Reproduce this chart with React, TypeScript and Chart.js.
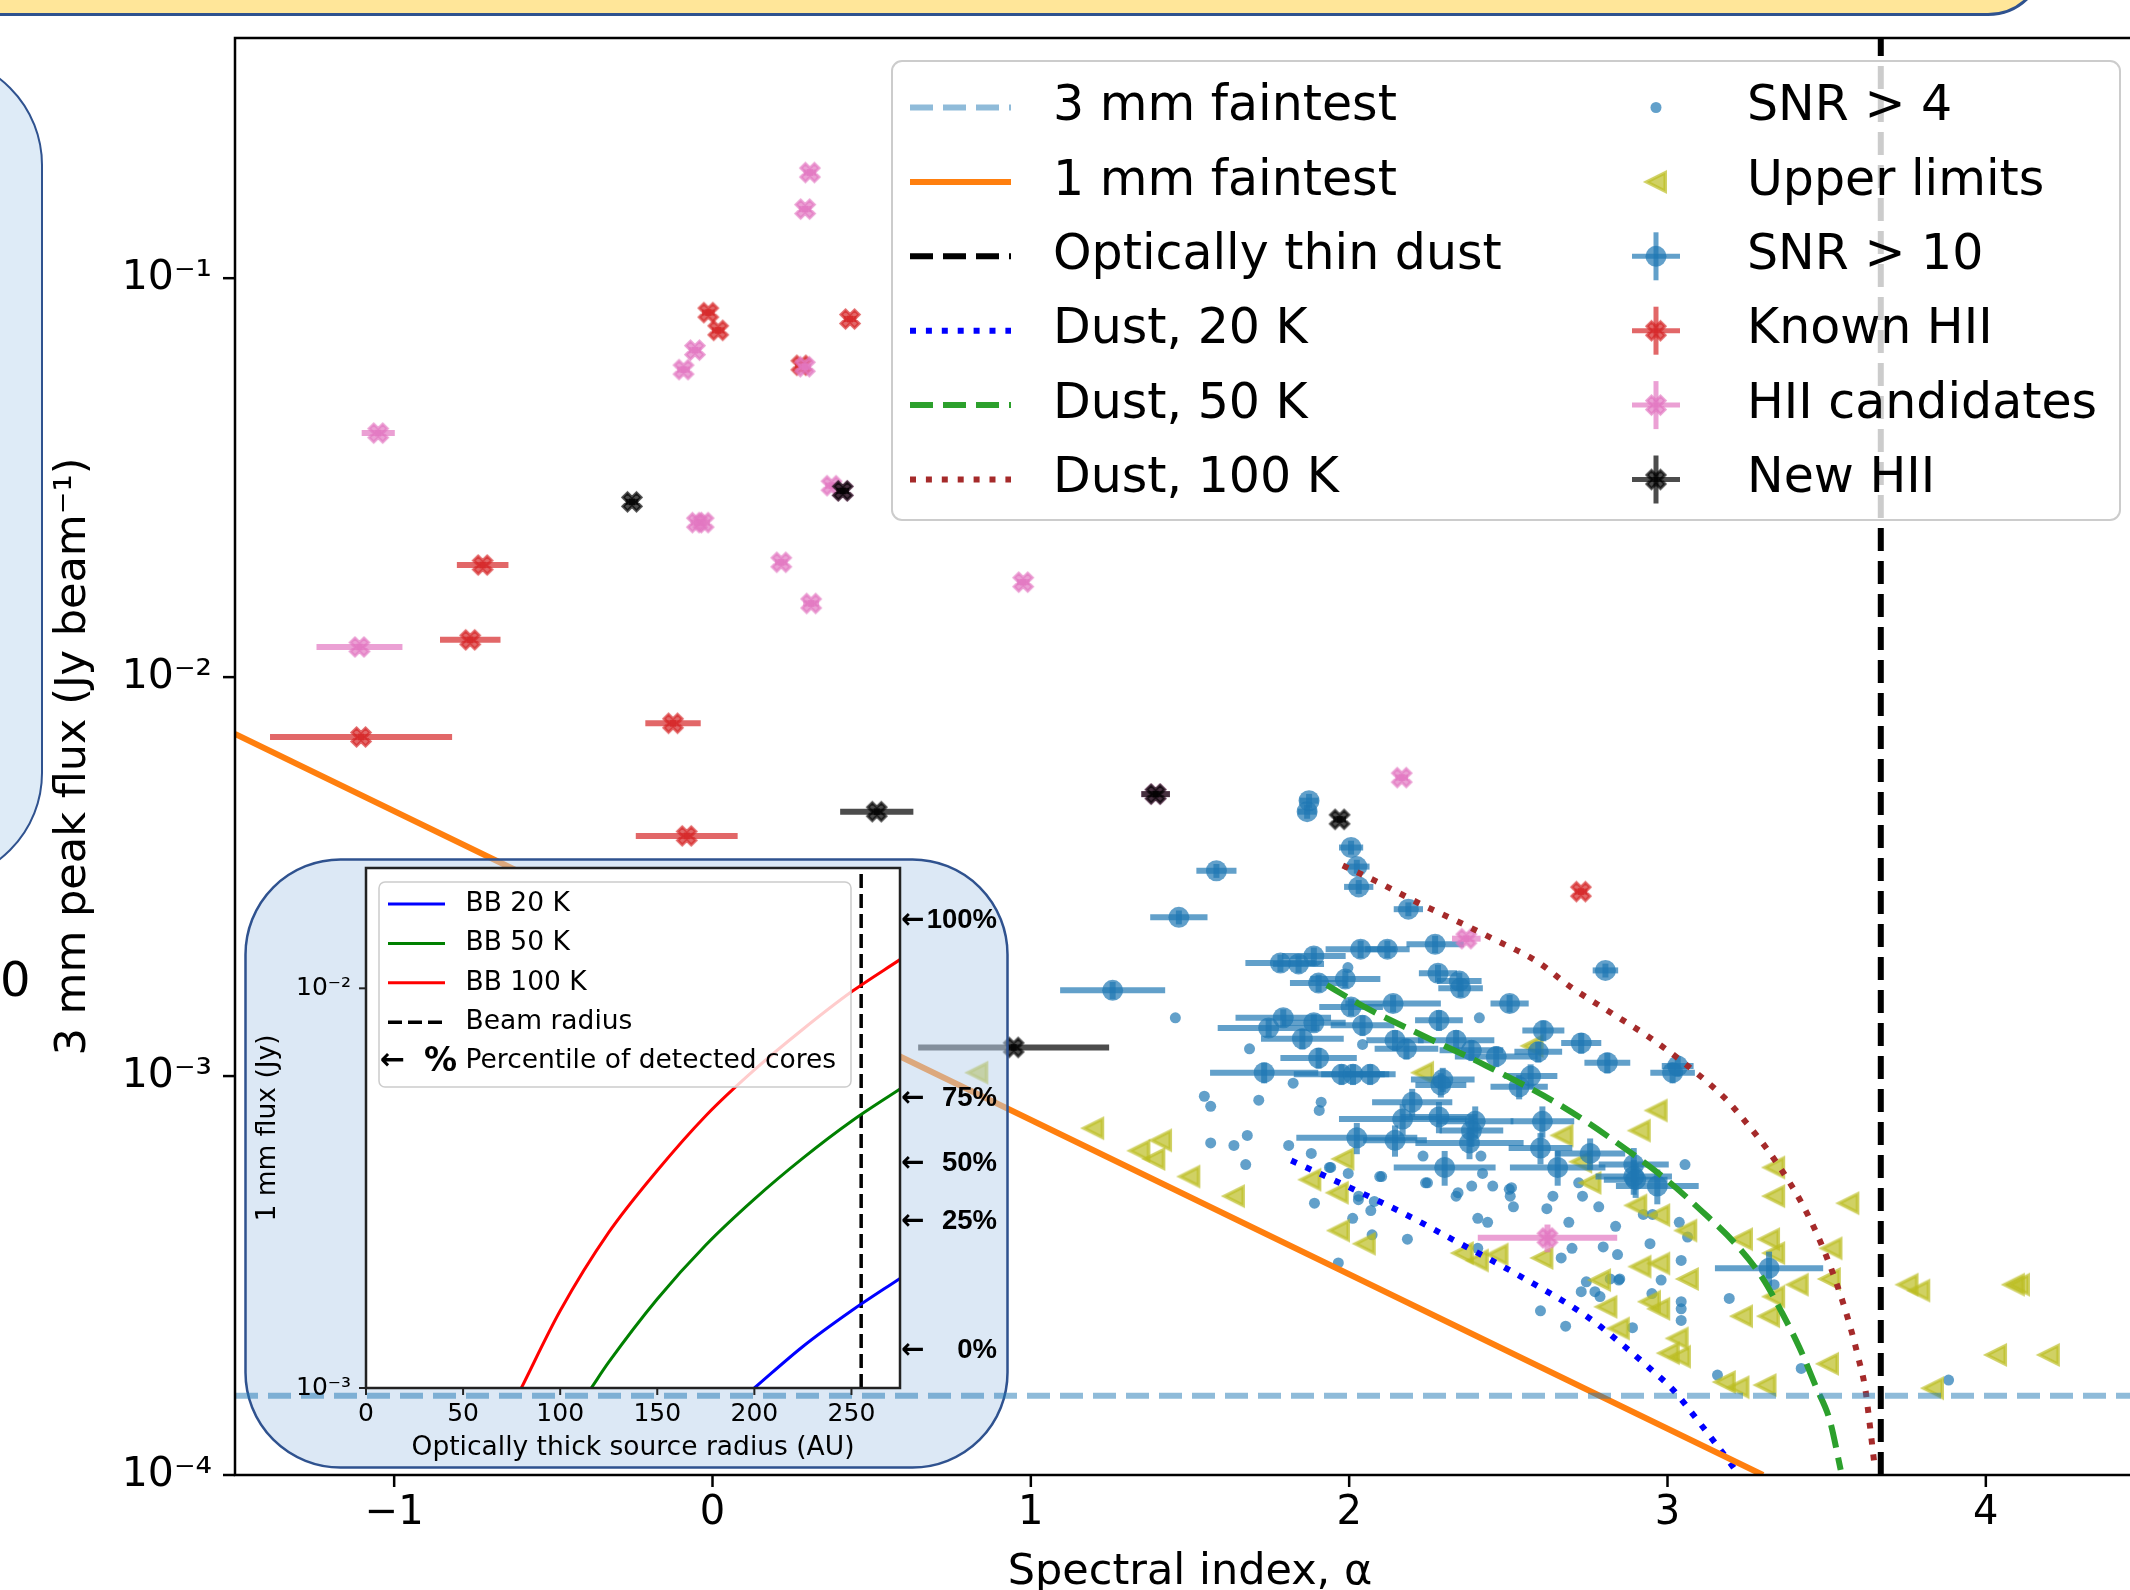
import React, { useEffect, useRef } from 'react';
import { Chart, registerables } from 'chart.js';

Chart.register(...registerables);

// ================= Main panel data (spectral index vs 3 mm peak flux) =================
const alphaTickValues = [-1, 0, 1, 2, 3, 4];
const alphaLimits = [-1.5, 4.5];
const fluxLimits = [1e-4, 0.4];

const faint3mmAlpha = [-1.5, 4.5];
const faint3mmFlux = [1.58e-4, 1.58e-4];
const faint1mmAlpha = [-1.5, 3.3];
const faint1mmFlux = [7.2e-3, 1.0e-4];
const thinDustAlpha = [3.67, 3.67];
const thinDustFlux = [1.0e-4, 0.4];

// [alpha, flux]
const dust20K = [
  [1.818, 6.14e-4], [1.966, 5.42e-4], [2.154, 4.6e-4], [2.331, 3.87e-4], [2.513, 3.23e-4],
  [2.749, 2.49e-4], [2.868, 2.09e-4], [2.945, 1.85e-4], [3.019, 1.63e-4], [3.095, 1.37e-4],
  [3.209, 1.04e-4], [3.224, 1.0e-4],
];
const dust50K = [
  [1.93, 1.69e-3], [2.048, 1.49e-3], [2.216, 1.28e-3], [2.432, 1.06e-3], [2.673, 8.36e-4],
  [2.889, 6.39e-4], [3.0, 5.47e-4], [3.106, 4.6e-4], [3.213, 3.8e-4], [3.297, 3.13e-4],
  [3.361, 2.54e-4], [3.414, 2.09e-4], [3.467, 1.66e-4], [3.51, 1.37e-4], [3.544, 1.03e-4],
];
const dust100K = [
  [1.98, 3.37e-3], [2.084, 3.08e-3], [2.216, 2.72e-3], [2.36, 2.4e-3], [2.456, 2.2e-3],
  [2.589, 1.94e-3], [2.697, 1.67e-3], [2.817, 1.45e-3], [2.937, 1.26e-3], [3.057, 1.07e-3],
  [3.177, 8.85e-4], [3.244, 7.7e-4], [3.308, 6.64e-4], [3.366, 5.69e-4], [3.42, 4.83e-4],
  [3.467, 4.06e-4], [3.508, 3.39e-4], [3.542, 2.85e-4], [3.573, 2.37e-4], [3.6, 1.96e-4],
  [3.621, 1.65e-4], [3.632, 1.41e-4], [3.652, 1.03e-4],
];

// SNR > 4 : [alpha, flux]
const snr4Points = [
  [1.454, 1.4e-3], [1.687, 1.17e-3], [1.824, 9.6e-4], [1.545, 8.9e-4], [1.565, 8.4e-4],
  [1.716, 8.7e-4], [1.912, 8.6e-4], [1.906, 8.2e-4], [1.565, 6.8e-4], [1.638, 6.7e-4],
  [1.68, 7.1e-4], [1.675, 6.0e-4], [1.81, 6.7e-4], [1.881, 6.4e-4], [1.938, 5.9e-4],
  [1.997, 5.7e-4], [2.096, 5.6e-4], [1.891, 4.8e-4], [2.029, 4.9e-4], [2.079, 4.85e-4],
  [2.068, 4.6e-4], [2.011, 4.4e-4], [2.183, 3.9e-4], [1.966, 3.4e-4], [2.072, 4.0e-4],
  [2.232, 6.3e-4], [2.24, 5.4e-4], [2.336, 5.0e-4], [2.385, 5.3e-4], [2.419, 5.7e-4],
  [2.451, 5.3e-4], [2.404, 4.4e-4], [2.435, 4.3e-4], [2.404, 3.7e-4], [2.409, 1.4e-3],
  [2.503, 5.2e-4], [2.506, 5.0e-4], [2.516, 4.7e-4], [2.414, 6.3e-4], [1.996, 1.87e-3],
  [2.042, 1.2e-3], [2.246, 5.4e-4], [2.342, 5.1e-4], [2.51, 5.25e-4], [2.64, 5.0e-4],
  [2.733, 5.0e-4], [2.721, 5.4e-4], [3.055, 6.0e-4], [2.102, 5.6e-4], [1.942, 5.9e-4],
  [2.03, 5.0e-4], [2.621, 4.65e-4], [2.601, 2.58e-4], [2.666, 3.5e-4], [2.69, 4.3e-4],
  [2.7, 3.7e-4], [2.68, 2.36e-4], [2.729, 2.88e-4], [2.745, 3.05e-4], [2.772, 2.88e-4],
  [2.784, 4.7e-4], [2.798, 3.73e-4], [2.837, 4.2e-4], [2.843, 3.57e-4], [2.847, 3.08e-4],
  [2.89, 2.34e-4], [2.945, 3.8e-4], [2.951, 2.85e-4], [2.98, 3.08e-4], [3.043, 3.45e-4],
  [3.043, 2.72e-4], [3.043, 2.61e-4], [3.043, 2.44e-4], [3.063, 3.95e-4], [3.194, 2.77e-4],
  [3.42, 1.85e-4], [3.157, 1.78e-4], [3.883, 1.73e-4], [2.953, 4.5e-4], [2.924, 4.5e-4],
  [3.037, 4.3e-4], [2.82, 3.1e-4], [2.85, 3.1e-4], [2.788, 2.8e-4], [3.335, 3.0e-4],
];

// Upper limits : [alpha, flux]
const upperLimitPoints = [
  [0.832, 1.02e-3], [1.196, 7.4e-4], [1.341, 6.5e-4], [1.409, 6.9e-4], [1.388, 6.2e-4],
  [1.498, 5.6e-4], [1.638, 5.0e-4], [1.982, 6.2e-4], [1.878, 5.5e-4], [1.964, 5.1e-4],
  [1.968, 4.1e-4], [2.049, 3.8e-4], [2.357, 3.6e-4], [2.404, 3.45e-4], [2.466, 3.57e-4],
  [2.232, 1.02e-3], [2.576, 1.19e-3], [2.607, 3.5e-4], [2.67, 7.1e-4], [2.729, 6.1e-4],
  [2.758, 5.4e-4], [2.788, 3.08e-4], [2.808, 2.64e-4], [2.847, 2.33e-4], [2.902, 4.74e-4],
  [2.915, 3.33e-4], [2.945, 2.72e-4], [2.974, 3.39e-4], [2.974, 4.48e-4], [3.004, 2.02e-4],
  [3.039, 1.98e-4], [3.18, 1.71e-4], [2.966, 8.2e-4], [2.913, 7.3e-4], [3.335, 5.9e-4],
  [3.335, 5.0e-4], [3.568, 4.8e-4], [3.059, 4.1e-4], [3.234, 3.9e-4], [3.319, 3.9e-4],
  [3.515, 3.7e-4], [3.335, 3.6e-4], [3.064, 3.1e-4], [3.409, 3.0e-4], [3.51, 3.1e-4],
  [3.754, 3.0e-4], [3.791, 2.9e-4], [4.088, 3.0e-4], [4.104, 3.0e-4], [3.335, 2.8e-4],
  [2.974, 2.61e-4], [3.234, 2.5e-4], [3.319, 2.5e-4], [3.032, 2.2e-4], [3.504, 1.9e-4],
  [4.032, 2.0e-4], [4.198, 2.0e-4], [3.223, 1.66e-4], [3.308, 1.68e-4], [3.834, 1.65e-4],
];

// SNR > 10 : [alpha, flux, alpha error, relative flux error]
const snr10Points = [
  [1.874, 4.9e-3, 0.03, 0.04], [1.868, 4.6e-3, 0.03, 0.04], [1.583, 3.27e-3, 0.063, 0.04],
  [2.006, 3.74e-3, 0.038, 0.04], [2.024, 3.35e-3, 0.04, 0.04], [2.03, 2.98e-3, 0.046, 0.04],
  [1.465, 2.5e-3, 0.09, 0.04], [2.186, 2.62e-3, 0.046, 0.04], [2.805, 1.84e-3, 0.04, 0.04],
  [2.036, 2.08e-3, 0.11, 0.05], [2.12, 2.08e-3, 0.07, 0.05], [2.27, 2.14e-3, 0.09, 0.05],
  [1.784, 1.92e-3, 0.11, 0.05], [1.841, 1.91e-3, 0.08, 0.05], [1.889, 2.0e-3, 0.1, 0.05],
  [1.904, 1.71e-3, 0.09, 0.05], [1.988, 1.75e-3, 0.11, 0.05], [2.279, 1.81e-3, 0.06, 0.05],
  [2.346, 1.73e-3, 0.07, 0.05], [2.35, 1.66e-3, 0.07, 0.05], [2.504, 1.52e-3, 0.06, 0.05],
  [2.138, 1.52e-3, 0.15, 0.05], [2.006, 1.49e-3, 0.1, 0.05], [1.793, 1.4e-3, 0.15, 0.05],
  [1.747, 1.32e-3, 0.16, 0.05], [1.889, 1.36e-3, 0.1, 0.05], [2.042, 1.34e-3, 0.1, 0.06],
  [2.282, 1.38e-3, 0.075, 0.06], [2.61, 1.3e-3, 0.066, 0.06], [1.853, 1.24e-3, 0.13, 0.06],
  [2.729, 1.21e-3, 0.063, 0.06], [2.144, 1.23e-3, 0.09, 0.06], [2.18, 1.17e-3, 0.1, 0.06],
  [2.336, 1.23e-3, 0.12, 0.06], [2.384, 1.16e-3, 0.1, 0.06], [2.462, 1.12e-3, 0.13, 0.06],
  [1.904, 1.11e-3, 0.12, 0.06], [2.594, 1.15e-3, 0.075, 0.06], [2.811, 1.08e-3, 0.072, 0.06],
  [1.733, 1.02e-3, 0.17, 0.06], [1.976, 1.01e-3, 0.15, 0.06], [2.012, 1.01e-3, 0.1, 0.06],
  [2.066, 1.01e-3, 0.08, 0.06], [2.294, 9.8e-4, 0.1, 0.07], [2.57, 1.0e-3, 0.084, 0.07],
  [2.534, 9.4e-4, 0.09, 0.07], [2.288, 9.5e-4, 0.08, 0.07], [2.198, 8.6e-4, 0.126, 0.08],
  [2.168, 7.8e-4, 0.2, 0.09], [2.282, 7.9e-4, 0.12, 0.09], [2.396, 7.7e-4, 0.12, 0.09],
  [2.384, 7.3e-4, 0.1, 0.09], [2.607, 7.7e-4, 0.1, 0.09], [2.024, 7.0e-4, 0.19, 0.09],
  [2.144, 6.9e-4, 0.1, 0.09], [2.378, 6.8e-4, 0.17, 0.09], [2.601, 6.6e-4, 0.1, 0.09],
  [2.757, 6.4e-4, 0.11, 0.09], [2.3, 5.9e-4, 0.16, 0.1], [2.655, 5.9e-4, 0.15, 0.1],
  [2.894, 6.0e-4, 0.11, 0.1], [2.894, 5.6e-4, 0.12, 0.1], [2.9, 5.5e-4, 0.1, 0.1],
  [2.968, 5.3e-4, 0.13, 0.1], [3.319, 3.3e-4, 0.17, 0.1], [3.016, 1.02e-3, 0.07, 0.06],
  [3.032, 1.06e-3, 0.05, 0.06], [1.257, 1.64e-3, 0.165, 0.05],
];

// HII regions : [alpha, flux, alpha error, relative flux error]
const knownHII = [
  [-0.013, 0.082, 0.02, 0.02], [0.018, 0.074, 0.02, 0.02], [0.432, 0.079, 0.02, 0.02],
  [0.279, 0.0605, 0.02, 0.02], [-0.722, 0.0191, 0.081, 0.02], [-0.761, 0.0124, 0.095, 0.02],
  [-1.104, 7.08e-3, 0.286, 0.02], [-0.124, 7.66e-3, 0.087, 0.02], [-0.081, 4.0e-3, 0.16, 0.02],
  [2.728, 2.9e-3, 0.02, 0.02],
];
const hiiCandidates = [
  [0.306, 0.184, 0.02, 0.02], [0.291, 0.149, 0.02, 0.02], [-0.055, 0.066, 0.02, 0.02],
  [-0.091, 0.059, 0.02, 0.02], [0.29, 0.06, 0.02, 0.02], [-1.05, 0.0409, 0.052, 0.02],
  [0.374, 0.0302, 0.02, 0.02], [0.409, 0.0293, 0.02, 0.02], [-0.049, 0.0244, 0.02, 0.02],
  [-0.028, 0.0244, 0.02, 0.02], [0.216, 0.0194, 0.02, 0.02], [0.31, 0.0153, 0.025, 0.02],
  [-1.109, 0.0119, 0.135, 0.02], [0.976, 0.0173, 0.02, 0.02], [2.165, 5.6e-3, 0.02, 0.02],
  [2.368, 2.21e-3, 0.045, 0.02], [2.623, 3.93e-4, 0.219, 0.08], [1.392, 5.09e-3, 0.045, 0.02],
];
const newHII = [
  [-0.253, 0.0275, 0.02, 0.02], [0.409, 0.0293, 0.02, 0.02], [0.516, 4.6e-3, 0.115, 0.02],
  [1.392, 5.09e-3, 0.045, 0.02], [1.97, 4.4e-3, 0.02, 0.02], [0.946, 1.18e-3, 0.3, 0.02],
];

// ================= Inset data (1 mm flux vs optically thick source radius) =================
const radiusTickValues = [0, 50, 100, 150, 200, 250];
const radiusLimits = [0, 275];
const insetFluxLimits = [1e-3, 2e-2];
const bb20Radius = [200, 225, 250, 275];
const bb20Flux = [1.0e-3, 1.27e-3, 1.56e-3, 1.88e-3];
const bb50Radius = [116, 125, 150, 175, 200, 225, 250, 275];
const bb50Flux = [1.0e-3, 1.16e-3, 1.67e-3, 2.28e-3, 2.97e-3, 3.76e-3, 4.65e-3, 5.6e-3];
const bb100Radius = [80, 100, 125, 150, 175, 200, 225, 250, 275];
const bb100Flux = [1.0e-3, 1.56e-3, 2.45e-3, 3.5e-3, 4.8e-3, 6.25e-3, 7.9e-3, 9.8e-3, 1.18e-2];
const beamRadius = 255;
const percentileLabels = ['100%', '75%', '50%', '25%', '0%'];
const percentileFlux = [1.48e-2, 5.3e-3, 3.64e-3, 2.61e-3, 1.24e-3];

// ================= styling / layout =================
const FAM = 'DejaVu Sans';
const TAB_BLUE = 'rgba(31,119,180,0.7)';
const OLIVE = 'rgba(188,189,34,0.7)';
const RED = 'rgba(214,39,40,0.7)';
const PINK = 'rgba(227,119,194,0.7)';
const BLACK_A = 'rgba(0,0,0,0.7)';

const MAIN_W = 2200;
const MAIN_H = 1590;
const INSET = { left: 244, top: 858, width: 765, height: 611, radius: 95 };
const MAIN_LEGEND = {
  x: 892, y: 61, w: 1228, h: 459, r: 10, firstRow: 107.5, rowStep: 74.4,
  lineX0: 910, lineX1: 1011, textX1: 1053, markX: 1656, textX2: 1747, font: 49, errHalf: 24,
};
const INSET_LEGEND = {
  x: 135, y: 24, w: 472, h: 205, r: 6, firstRow: 46, rowStep: 39.4,
  lineX0: 144, lineX1: 201, textX: 221.5, font: 26.5,
};
const PCT = { arrowX: 657, textRight: 753, font: 27.5 };

const SUP: Record<string, string> = {
  '-': '\u207B', '0': '\u2070', '1': '\u00B9', '2': '\u00B2', '3': '\u00B3', '4': '\u2074',
  '5': '\u2075', '6': '\u2076', '7': '\u2077', '8': '\u2078', '9': '\u2079',
};
function isDecade(v: number) {
  const l = Math.log10(v);
  return Math.abs(l - Math.round(l)) < 1e-6;
}
function decadeLabel(v: number) {
  if (!isDecade(v)) return null;
  const e = Math.round(Math.log10(v));
  return '10' + String(e).split('').map((c) => SUP[c] || c).join('');
}
function logTickValues(lo: number, hi: number) {
  const out: number[] = [];
  for (let e = Math.floor(Math.log10(lo)); e <= Math.ceil(Math.log10(hi)); e++) {
    for (let m = 1; m <= 9; m++) {
      const v = parseFloat((m * Math.pow(10, e)).toPrecision(6));
      if (v >= lo * 0.9999 && v <= hi * 1.0001) out.push(v);
    }
  }
  return out;
}
function signedLabel(v: number) {
  return v < 0 ? '\u2212' + String(-v) : String(v);
}
function zeroPadding(s: any) {
  s.paddingTop = 0;
  s.paddingBottom = 0;
  s.paddingLeft = 0;
  s.paddingRight = 0;
}

// marker glyphs (matplotlib-like filled 'X' and '<')
function makeMarkerCanvas(kind: string, color: string, size: number, edge: number) {
  const S = Math.ceil(size + 2 * edge + 4);
  const c = document.createElement('canvas');
  c.width = S;
  c.height = S;
  const g = c.getContext('2d') as CanvasRenderingContext2D;
  g.translate(S / 2, S / 2);
  g.beginPath();
  if (kind === 'X') {
    const k = size / 4;
    const v = [[-1, -2], [0, -1], [1, -2], [2, -1], [1, 0], [2, 1], [1, 2], [0, 1], [-1, 2], [-2, 1], [-1, 0], [-2, -1]];
    v.forEach((p, i) => (i ? g.lineTo(p[0] * k, p[1] * k) : g.moveTo(p[0] * k, p[1] * k)));
  } else {
    const h = size / 2;
    g.moveTo(-h, 0);
    g.lineTo(h, h);
    g.lineTo(h, -h);
  }
  g.closePath();
  g.fillStyle = color;
  g.fill();
  g.lineJoin = 'miter';
  g.lineWidth = edge;
  g.strokeStyle = color;
  g.stroke();
  return c;
}

function roundRectPath(ctx: CanvasRenderingContext2D, x: number, y: number, w: number, h: number, r: number) {
  ctx.beginPath();
  ctx.moveTo(x + r, y);
  ctx.lineTo(x + w - r, y);
  ctx.arcTo(x + w, y, x + w, y + r, r);
  ctx.lineTo(x + w, y + h - r);
  ctx.arcTo(x + w, y + h, x + w - r, y + h, r);
  ctx.lineTo(x + r, y + h);
  ctx.arcTo(x, y + h, x, y + h - r, r);
  ctx.lineTo(x, y + r);
  ctx.arcTo(x, y, x + r, y, r);
  ctx.closePath();
}

function drawMarker(ctx: CanvasRenderingContext2D, d: any, x: number, y: number) {
  const st = d.pointStyle;
  if (st && typeof st === 'object') {
    ctx.drawImage(st, x - st.width / 2, y - st.height / 2);
    return;
  }
  ctx.save();
  ctx.fillStyle = d.pointBackgroundColor;
  ctx.beginPath();
  ctx.arc(x, y, d.pointRadius, 0, Math.PI * 2);
  ctx.fill();
  ctx.restore();
}

function drawFrame(chart: any, cfg: any) {
  const { ctx, chartArea: a } = chart;
  const xs = chart.scales.x;
  const ys = chart.scales.y;
  ctx.save();
  ctx.strokeStyle = cfg.color;
  ctx.lineCap = 'butt';
  xs.ticks.forEach((t: any) => {
    const p = xs.getPixelForValue(t.value);
    ctx.lineWidth = cfg.majorW;
    ctx.beginPath();
    ctx.moveTo(p, a.bottom);
    ctx.lineTo(p, a.bottom + cfg.majorLen);
    ctx.stroke();
  });
  ys.ticks.forEach((t: any) => {
    const maj = isDecade(t.value);
    const p = ys.getPixelForValue(t.value);
    ctx.lineWidth = maj ? cfg.majorW : cfg.minorW;
    const len = maj ? cfg.majorLen : cfg.minorLen;
    ctx.beginPath();
    ctx.moveTo(a.left - len, p);
    ctx.lineTo(a.left, p);
    ctx.stroke();
  });
  ctx.lineWidth = cfg.spine;
  ctx.strokeRect(a.left, a.top, a.right - a.left, a.bottom - a.top);
  ctx.restore();
}

function drawInsetBox(ctx: CanvasRenderingContext2D) {
  ctx.save();
  roundRectPath(ctx, INSET.left + 1.5, INSET.top + 1.5, INSET.width - 3, INSET.height - 3, INSET.radius);
  ctx.fillStyle = 'rgba(185,209,235,0.5)';
  ctx.fill();
  ctx.lineWidth = 2.5;
  ctx.strokeStyle = '#2F528F';
  ctx.stroke();
  ctx.restore();
}

function drawErrorBars(chart: any, ds: any) {
  const { ctx } = chart;
  const xs = chart.scales.x;
  const ys = chart.scales.y;
  ctx.save();
  ctx.strokeStyle = ds.errColor;
  ctx.lineWidth = 6;
  ctx.lineCap = 'butt';
  ds.data.forEach((p: any, i: number) => {
    const px = xs.getPixelForValue(p.x);
    const py = ys.getPixelForValue(p.y);
    ctx.beginPath();
    ctx.moveTo(xs.getPixelForValue(p.x - ds.errX[i]), py);
    ctx.lineTo(xs.getPixelForValue(p.x + ds.errX[i]), py);
    ctx.stroke();
    const e = ds.errY[i];
    if (e > 0) {
      ctx.beginPath();
      ctx.moveTo(px, ys.getPixelForValue(p.y * (1 - e)));
      ctx.lineTo(px, ys.getPixelForValue(p.y * (1 + e)));
      ctx.stroke();
    }
  });
  ctx.restore();
}

function drawMainLegend(chart: any) {
  const ctx: CanvasRenderingContext2D = chart.ctx;
  const L = MAIN_LEGEND;
  const ds = chart.data.datasets;
  const lineSets = ds.filter((d: any) => d.showLine);
  const markSets = ds.filter((d: any) => !d.showLine);
  ctx.save();
  roundRectPath(ctx, L.x, L.y, L.w, L.h, L.r);
  ctx.fillStyle = 'rgba(255,255,255,0.8)';
  ctx.fill();
  ctx.strokeStyle = '#cccccc';
  ctx.lineWidth = 2;
  ctx.stroke();
  ctx.textBaseline = 'middle';
  ctx.textAlign = 'left';
  lineSets.forEach((d: any, i: number) => {
    const y = L.firstRow + i * L.rowStep;
    ctx.save();
    ctx.strokeStyle = d.borderColor;
    ctx.lineWidth = d.borderWidth;
    ctx.setLineDash(d.borderDash || []);
    ctx.lineCap = 'butt';
    ctx.beginPath();
    ctx.moveTo(L.lineX0, y);
    ctx.lineTo(L.lineX1, y);
    ctx.stroke();
    ctx.restore();
    ctx.font = `${L.font}px "${FAM}"`;
    ctx.fillStyle = '#000';
    ctx.fillText(d.label, L.textX1, y);
  });
  markSets.forEach((d: any, i: number) => {
    const y = L.firstRow + i * L.rowStep;
    if (d.errX) {
      ctx.save();
      ctx.strokeStyle = d.errColor;
      ctx.lineWidth = 5;
      ctx.beginPath();
      ctx.moveTo(L.markX - L.errHalf, y);
      ctx.lineTo(L.markX + L.errHalf, y);
      ctx.stroke();
      ctx.beginPath();
      ctx.moveTo(L.markX, y - L.errHalf);
      ctx.lineTo(L.markX, y + L.errHalf);
      ctx.stroke();
      ctx.restore();
    }
    drawMarker(ctx, d, L.markX, y);
    ctx.font = `${L.font}px "${FAM}"`;
    ctx.fillStyle = '#000';
    ctx.fillText(d.label, L.textX2, y);
  });
  ctx.restore();
}

const mainDecorPlugin = {
  id: 'mainDecor',
  beforeDatasetDraw(chart: any, args: any) {
    const ds = chart.data.datasets[args.index];
    if (ds.insetBoxBelow) drawInsetBox(chart.ctx);
    if (ds.errX) drawErrorBars(chart, ds);
  },
  afterDraw(chart: any) {
    drawFrame(chart, { color: '#000', spine: 2.5, majorLen: 12, minorLen: 7, majorW: 2.5, minorW: 1.8 });
    drawMainLegend(chart);
  },
};

function buildMainConfig(): any {
  const lineDs = (label: string, xs: number[], ys: number[], color: string, dash: number[], extra: any = {}) => ({
    label,
    data: xs.map((x, i) => ({ x, y: ys[i] })),
    showLine: true,
    borderColor: color,
    backgroundColor: color,
    borderWidth: 6,
    borderDash: dash,
    borderCapStyle: 'butt',
    pointRadius: 0,
    pointHoverRadius: 0,
    pointHitRadius: 0,
    fill: false,
    tension: 0,
    order: 1,
    ...extra,
  });
  const markDs = (label: string, rows: number[][], m: any, order: number) => ({
    label,
    data: rows.map((r) => ({ x: r[0], y: r[1] })),
    showLine: false,
    order,
    pointStyle: m.style,
    pointRadius: m.radius,
    pointHoverRadius: m.radius,
    pointBackgroundColor: m.fill,
    pointBorderColor: m.fill,
    pointBorderWidth: 0,
    errX: rows[0].length > 2 ? rows.map((r) => r[2]) : null,
    errY: rows[0].length > 2 ? rows.map((r) => r[3]) : null,
    errColor: m.fill,
  });
  const col = (rows: number[][], k: number) => rows.map((r) => r[k]);
  const tri = makeMarkerCanvas('<', OLIVE, 18.5, 3.5);
  const xRed = makeMarkerCanvas('X', RED, 18, 3);
  const xPink = makeMarkerCanvas('X', PINK, 18, 3);
  const xBlack = makeMarkerCanvas('X', BLACK_A, 18, 3);
  const datasets = [
    lineDs('3 mm faintest', faint3mmAlpha, faint3mmFlux, 'rgba(31,119,180,0.5)', [23, 10], { order: 0, insetBoxBelow: true }),
    lineDs('1 mm faintest', faint1mmAlpha, faint1mmFlux, '#ff7f0e', []),
    lineDs('Optically thin dust', thinDustAlpha, thinDustFlux, '#000000', [23, 10]),
    lineDs('Dust, 20 K', col(dust20K, 0), col(dust20K, 1), '#0000ff', [6, 9.9], { cubicInterpolationMode: 'monotone' }),
    lineDs('Dust, 50 K', col(dust50K, 0), col(dust50K, 1), '#2ca02c', [23, 10], { cubicInterpolationMode: 'monotone' }),
    lineDs('Dust, 100 K', col(dust100K, 0), col(dust100K, 1), '#a52a2a', [6, 9.9], { cubicInterpolationMode: 'monotone' }),
    markDs('SNR > 4', snr4Points, { style: 'circle', radius: 5.5, fill: TAB_BLUE }, 10),
    markDs('Upper limits', upperLimitPoints, { style: tri, radius: 12, fill: OLIVE }, 9),
    markDs('SNR > 10', snr10Points, { style: 'circle', radius: 10.5, fill: TAB_BLUE }, 8),
    markDs('Known HII', knownHII, { style: xRed, radius: 12, fill: RED }, 7),
    markDs('HII candidates', hiiCandidates, { style: xPink, radius: 12, fill: PINK }, 6),
    markDs('New HII', newHII, { style: xBlack, radius: 12, fill: BLACK_A }, 5),
  ];
  return {
    type: 'scatter',
    data: { datasets },
    options: {
      responsive: false,
      animation: false,
      devicePixelRatio: 1,
      events: [],
      layout: { padding: { left: 0, top: 38, right: MAIN_W - 2145, bottom: 0 } },
      plugins: { legend: { display: false }, tooltip: { enabled: false } },
      scales: {
        x: {
          type: 'linear',
          min: alphaLimits[0],
          max: alphaLimits[1],
          afterBuildTicks: (s: any) => { s.ticks = alphaTickValues.map((v) => ({ value: v })); },
          afterFit: (s: any) => { s.height = MAIN_H - 1475; zeroPadding(s); },
          grid: { display: false, drawTicks: false },
          border: { display: false },
          ticks: {
            autoSkip: false, maxRotation: 0, minRotation: 0, padding: 15, color: '#000',
            font: { family: FAM, size: 40 },
            callback: (v: any) => signedLabel(Number(v)),
          },
          title: {
            display: true, text: 'Spectral index, \u03B1', color: '#000',
            font: { family: FAM, size: 43 }, padding: { top: 0, bottom: -9 },
          },
        },
        y: {
          type: 'logarithmic',
          min: fluxLimits[0],
          max: fluxLimits[1],
          afterBuildTicks: (s: any) => { s.ticks = logTickValues(fluxLimits[0], fluxLimits[1]).map((v) => ({ value: v })); },
          afterFit: (s: any) => { s.width = 235; zeroPadding(s); },
          grid: { display: false, drawTicks: false },
          border: { display: false },
          ticks: {
            autoSkip: false, padding: 23, color: '#000',
            font: { family: FAM, size: 41 },
            callback: (v: any) => decadeLabel(Number(v)),
          },
          title: {
            display: true, text: '3 mm peak flux (Jy beam\u207B\u00B9)', color: '#000',
            font: { family: FAM, size: 43 }, padding: { top: 48, bottom: 0 },
          },
        },
      },
    },
    plugins: [mainDecorPlugin],
  };
}

// ================= inset =================
function drawInsetLegend(chart: any) {
  const ctx: CanvasRenderingContext2D = chart.ctx;
  const L = INSET_LEGEND;
  const ds = chart.data.datasets;
  ctx.save();
  roundRectPath(ctx, L.x, L.y, L.w, L.h, L.r);
  ctx.fillStyle = 'rgba(255,255,255,0.8)';
  ctx.fill();
  ctx.strokeStyle = '#cccccc';
  ctx.lineWidth = 1.5;
  ctx.stroke();
  ctx.textBaseline = 'middle';
  ctx.textAlign = 'left';
  ds.forEach((d: any, i: number) => {
    const y = L.firstRow + i * L.rowStep;
    ctx.save();
    ctx.strokeStyle = d.borderColor;
    ctx.lineWidth = d.borderWidth;
    ctx.setLineDash(d.borderDash || []);
    ctx.beginPath();
    ctx.moveTo(L.lineX0, y);
    ctx.lineTo(L.lineX1, y);
    ctx.stroke();
    ctx.restore();
    ctx.font = `${L.font}px "${FAM}"`;
    ctx.fillStyle = '#000';
    ctx.fillText(d.label, L.textX, y);
  });
  const y = L.firstRow + ds.length * L.rowStep;
  ctx.fillStyle = '#000';
  ctx.font = `bold 30px "${FAM}"`;
  ctx.fillText('\u2190', L.x + 1, y);
  ctx.font = `bold 33px "${FAM}"`;
  ctx.fillText('%', 180, y + 1);
  ctx.font = `${L.font}px "${FAM}"`;
  ctx.fillText('Percentile of detected cores', L.textX, y);
  ctx.restore();
}

function drawPercentiles(chart: any) {
  const ctx: CanvasRenderingContext2D = chart.ctx;
  const ys = chart.scales.y;
  ctx.save();
  ctx.fillStyle = '#000';
  ctx.textBaseline = 'middle';
  percentileLabels.forEach((lab, i) => {
    const y = ys.getPixelForValue(percentileFlux[i]);
    ctx.font = `bold 28px "${FAM}"`;
    ctx.textAlign = 'left';
    ctx.fillText('\u2190', PCT.arrowX, y);
    ctx.font = `bold ${PCT.font}px "Liberation Sans"`;
    ctx.textAlign = 'right';
    ctx.fillText(lab, PCT.textRight, y);
  });
  ctx.restore();
}

const insetDecorPlugin = {
  id: 'insetDecor',
  beforeDraw(chart: any) {
    const a = chart.chartArea;
    const ctx = chart.ctx;
    ctx.save();
    ctx.fillStyle = '#ffffff';
    ctx.fillRect(a.left, a.top, a.right - a.left, a.bottom - a.top);
    ctx.restore();
  },
  afterDraw(chart: any) {
    drawFrame(chart, { color: '#222', spine: 2.5, majorLen: 7, minorLen: 4, majorW: 2, minorW: 1.5 });
    drawInsetLegend(chart);
    drawPercentiles(chart);
  },
};

function buildInsetConfig(): any {
  const curve = (label: string, rs: number[], fs: number[], color: string) => ({
    label,
    data: rs.map((x, i) => ({ x, y: fs[i] })),
    showLine: true,
    borderColor: color,
    borderWidth: 3,
    pointRadius: 0,
    pointHoverRadius: 0,
    fill: false,
    cubicInterpolationMode: 'monotone',
  });
  return {
    type: 'scatter',
    data: {
      datasets: [
        curve('BB 20 K', bb20Radius, bb20Flux, '#0000ff'),
        curve('BB 50 K', bb50Radius, bb50Flux, '#008000'),
        curve('BB 100 K', bb100Radius, bb100Flux, '#ff0000'),
        {
          label: 'Beam radius',
          data: [{ x: beamRadius, y: insetFluxLimits[0] }, { x: beamRadius, y: insetFluxLimits[1] }],
          showLine: true,
          borderColor: '#000000',
          borderWidth: 3.5,
          borderDash: [14, 6],
          pointRadius: 0,
          pointHoverRadius: 0,
          fill: false,
        },
      ],
    },
    options: {
      responsive: false,
      animation: false,
      devicePixelRatio: 1,
      events: [],
      layout: { padding: { left: 0, top: 10, right: INSET.width - 656, bottom: 0 } },
      plugins: { legend: { display: false }, tooltip: { enabled: false } },
      scales: {
        x: {
          type: 'linear',
          min: radiusLimits[0],
          max: radiusLimits[1],
          afterBuildTicks: (s: any) => { s.ticks = radiusTickValues.map((v) => ({ value: v })); },
          afterFit: (s: any) => { s.height = INSET.height - 530; zeroPadding(s); },
          grid: { display: false, drawTicks: false },
          border: { display: false },
          ticks: { autoSkip: false, maxRotation: 0, padding: 11, color: '#000', font: { family: FAM, size: 25 } },
          title: {
            display: true, text: 'Optically thick source radius (AU)', color: '#000',
            font: { family: FAM, size: 26.5 }, padding: { top: 0, bottom: 5 },
          },
        },
        y: {
          type: 'logarithmic',
          min: insetFluxLimits[0],
          max: insetFluxLimits[1],
          afterBuildTicks: (s: any) => { s.ticks = logTickValues(insetFluxLimits[0], insetFluxLimits[1]).map((v) => ({ value: v })); },
          afterFit: (s: any) => { s.width = 122; zeroPadding(s); },
          grid: { display: false, drawTicks: false },
          border: { display: false },
          ticks: {
            autoSkip: false, padding: 15, color: '#000', font: { family: FAM, size: 25 },
            callback: (v: any) => decadeLabel(Number(v)),
          },
          title: {
            display: true, text: '1 mm flux (Jy)', color: '#000',
            font: { family: FAM, size: 26.5 }, padding: { top: 8, bottom: 0 },
          },
        },
      },
    },
    plugins: [insetDecorPlugin],
  };
}

export default function App() {
  const mainRef = useRef<HTMLCanvasElement>(null);
  const insetRef = useRef<HTMLCanvasElement>(null);

  useEffect(() => {
    const main = new Chart(mainRef.current as HTMLCanvasElement, buildMainConfig());
    const inset = new Chart(insetRef.current as HTMLCanvasElement, buildInsetConfig());
    return () => {
      main.destroy();
      inset.destroy();
    };
  }, []);

  return (
    <div style={{ position: 'fixed', left: 0, top: 0, width: 2130, height: 1590, overflow: 'hidden', background: '#ffffff' }}>
      <canvas
        ref={mainRef}
        width={MAIN_W}
        height={MAIN_H}
        style={{ position: 'absolute', left: 0, top: 0, width: MAIN_W, height: MAIN_H }}
      />
      <canvas
        ref={insetRef}
        width={INSET.width}
        height={INSET.height}
        style={{ position: 'absolute', left: INSET.left, top: INSET.top, width: INSET.width, height: INSET.height }}
      />
      <div
        style={{
          position: 'absolute', left: -100, top: -100, width: 2146, height: 116, boxSizing: 'border-box',
          border: '3px solid #2F528F', borderRadius: 58, background: '#FFE699',
        }}
      />
      <div
        style={{
          position: 'absolute', left: -200, top: 55, width: 243, height: 828, boxSizing: 'border-box',
          border: '2.5px solid #2F528F', borderRadius: 110, background: '#DEEBF7',
        }}
      />
      <div
        style={{
          position: 'absolute', left: 0, top: 954, fontFamily: FAM, fontSize: 48, lineHeight: '50px', color: '#000',
        }}
      >
        0
      </div>
    </div>
  );
}
